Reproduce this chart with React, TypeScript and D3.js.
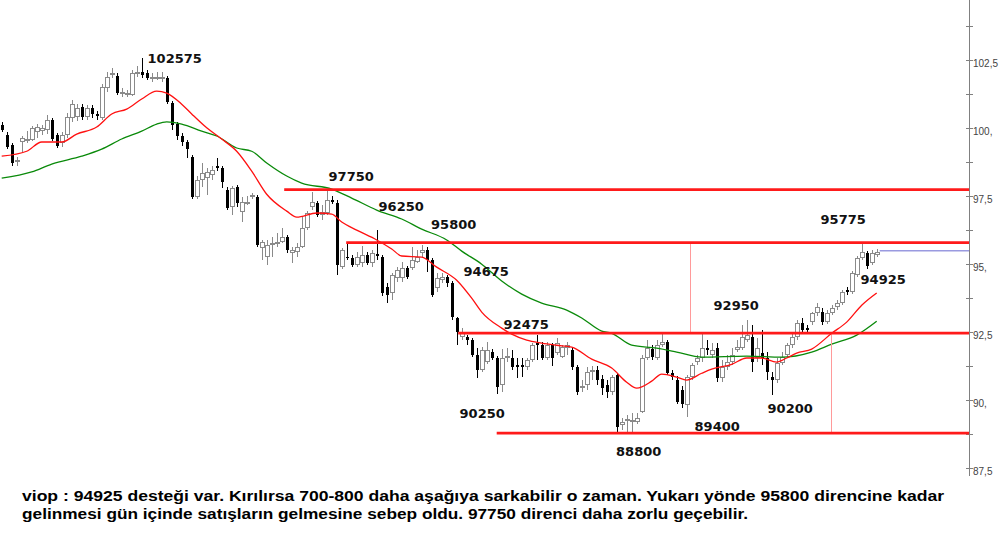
import React, { useEffect, useRef } from 'react';
import * as d3 from 'd3';

// open, high, low, close
type Candle = [number, number, number, number];

const candles: Candle[] = [
  [100130, 100240, 99870, 99940], [99760, 99870, 99240, 99310], [99390, 99460, 98620, 98730], [98770, 98940, 98620, 98840],
  [99500, 99720, 99130, 99650], [99530, 99900, 99460, 99610], [99570, 100090, 99530, 100020], [99870, 100160, 99650, 100050],
  [99900, 100130, 99760, 100020], [99940, 100500, 99790, 100310], [100310, 100380, 99530, 99610], [99760, 99830, 99280, 99350],
  [99460, 99870, 99310, 99760], [99760, 100570, 99650, 100420], [100390, 101040, 100240, 100890], [100420, 100890, 100270, 100750],
  [100780, 100890, 100310, 100420], [100420, 100860, 100310, 100750], [100750, 100860, 100390, 100530], [100530, 100640, 100310, 100460],
  [100390, 101630, 100310, 101520], [101490, 102080, 101340, 101890], [101970, 102220, 101860, 102040], [101930, 102040, 101230, 101300],
  [101300, 101490, 101150, 101340], [101230, 101410, 101150, 101300], [101230, 102150, 101190, 102040], [102000, 102290, 101890, 102080],
  [102080, 102575, 101860, 101970], [102040, 102150, 101780, 101860], [101820, 102040, 101710, 101890], [101820, 102080, 101780, 101890],
  [101860, 102080, 101710, 101890], [101860, 101930, 100890, 100970], [100930, 101000, 99940, 100130], [100160, 100240, 99570, 99720],
  [99720, 99830, 99350, 99500], [99500, 99570, 98910, 99240], [98940, 99020, 97400, 97470], [97470, 98250, 97400, 98100],
  [98100, 98730, 97840, 98360], [98180, 98550, 97550, 98400], [98290, 98620, 98100, 98470], [98620, 98910, 98430, 98550],
  [98550, 98620, 97810, 98030], [97730, 97840, 97000, 97070], [97110, 97880, 96820, 97810], [97840, 97920, 97110, 97260],
  [96930, 97470, 96560, 97300], [97260, 97510, 97190, 97300], [97470, 97620, 97400, 97550], [97470, 97550, 95640, 95720],
  [95600, 95900, 95160, 95830], [95270, 95900, 94980, 95720], [95750, 96010, 95270, 95790], [95790, 96150, 95640, 95830],
  [95830, 96340, 95790, 96010], [96010, 96080, 95420, 95530], [95420, 95640, 95050, 95530], [95460, 95790, 95270, 95640],
  [95640, 96740, 95600, 96340], [96340, 96960, 96260, 96890], [97110, 97660, 97000, 97300], [97260, 97330, 96740, 96820],
  [96820, 97190, 96630, 96930], [96890, 97700, 96820, 97370], [97370, 97510, 97220, 97300], [97260, 97370, 94610, 94980],
  [94900, 95600, 94830, 95530], [95270, 95830, 95160, 95230], [95230, 95350, 94900, 94980], [94980, 95460, 94900, 95270],
  [95050, 95680, 94900, 95350], [95350, 95460, 94980, 95050], [95050, 95530, 94900, 95420], [95380, 96260, 95160, 95310],
  [95270, 95350, 93840, 93950], [94170, 94310, 93580, 93880], [93950, 94680, 93690, 94610], [94500, 94900, 94350, 94790],
  [94500, 95090, 94350, 94860], [94860, 94940, 94460, 94530], [94860, 95640, 94790, 95160], [95090, 95530, 95050, 95270],
  [95420, 95720, 95270, 95530], [95530, 95640, 94720, 95160], [95160, 95230, 93800, 93880], [94130, 94680, 93990, 94500],
  [94420, 94680, 94310, 94530], [94530, 94610, 94170, 94310], [94310, 94390, 92950, 93060], [93030, 93060, 92030, 92510],
  [92320, 92660, 92220, 92470], [92320, 92400, 92030, 92220], [92220, 92290, 91590, 91670], [91670, 91920, 90820, 91110],
  [91110, 91960, 91040, 91850], [91410, 92140, 91330, 91850], [91780, 91890, 91480, 91560], [91560, 91630, 90250, 90490],
  [90560, 91890, 90300, 91560], [91560, 91920, 91410, 91630], [91560, 91850, 91110, 91220], [91300, 91560, 90820, 91220],
  [91300, 91560, 90860, 91220], [91220, 91560, 91110, 91480], [91480, 92110, 91410, 92030], [92110, 92400, 91480, 92030],
  [92030, 92140, 91480, 91560], [91560, 92140, 91480, 92030], [92030, 92110, 91260, 91560], [91740, 92290, 91670, 92110],
  [91590, 92030, 91560, 91960], [91920, 92140, 91670, 92030], [91850, 91920, 91110, 91220], [91220, 91300, 90200, 90310],
  [90450, 90750, 90310, 90530], [90560, 91220, 90380, 91040], [91040, 91260, 90750, 91110], [91110, 91260, 90560, 90750],
  [90780, 90930, 90200, 90450], [90560, 90750, 90090, 90310], [90310, 90930, 90200, 90860], [90930, 91000, 88800, 89010],
  [89090, 89350, 88910, 89200], [89270, 89460, 88830, 89310], [89240, 89530, 88830, 89270], [89200, 89530, 89130, 89350],
  [89570, 91670, 89530, 91560], [91560, 92220, 91480, 91920], [91890, 92030, 91480, 91590], [91560, 92220, 91480, 92030],
  [92030, 92470, 91960, 92140], [92140, 92220, 90930, 91000], [91000, 91110, 90750, 90860], [90750, 90890, 89860, 89940],
  [90380, 90530, 89710, 89860], [89830, 90930, 89400, 90860], [90860, 91370, 90750, 91300], [91410, 91670, 91300, 91560],
  [91560, 92510, 91410, 91920], [91920, 92220, 91670, 91850], [91670, 92110, 91560, 91850], [91920, 92110, 90670, 90820],
  [90820, 91480, 90670, 91220], [91220, 91670, 91110, 91410], [91410, 91920, 91300, 91670], [91850, 92220, 91780, 91960],
  [91920, 92770, 91850, 92320], [92220, 92950, 92140, 92400], [92320, 92770, 91040, 91410], [91560, 92290, 91410, 91920],
  [91740, 92580, 91300, 91560], [91560, 91780, 90750, 91040], [90860, 91040, 90200, 90750], [90750, 91560, 90640, 91370],
  [91370, 91780, 91300, 91590], [91670, 92110, 91590, 92030], [92030, 92470, 91920, 92320], [92320, 92950, 92220, 92840],
  [92840, 93030, 92470, 92580], [92660, 92770, 92510, 92580], [92880, 93250, 92770, 93210], [93210, 93580, 93100, 93430],
  [93250, 93400, 92770, 92880], [92880, 93320, 92800, 93210], [93210, 93510, 93140, 93400], [93430, 93690, 93320, 93580],
  [93580, 94060, 93510, 93990], [94060, 94170, 93880, 93990], [93990, 94760, 93910, 94680], [94610, 95310, 94530, 95230],
  [95230, 95775, 95160, 95460], [95420, 95490, 94830, 94925], [95050, 95530, 94980, 95420], [95350, 95570, 95270, 95460],
];

// [candle index, value]
const fastMa: [number, number][] = [
  [0, 98980], [5, 99160], [8, 99500], [12, 99500], [15, 99790], [19, 100050], [22, 100530], [25, 100710],
  [28, 101080], [31, 101370], [33, 101300], [36, 100890], [38, 100530], [41, 100020], [44, 99610], [47, 99160],
  [50, 98430], [53, 97580], [57, 96960], [59, 96740], [63, 96890], [66, 96850], [68, 96560], [71, 96260],
  [75, 95900], [78, 95570], [80, 95310], [84, 95270], [87, 94900], [91, 94420], [94, 93760], [96, 93250],
  [100, 92660], [102, 92440], [105, 92220], [108, 92110], [111, 92030], [114, 91960], [118, 91520], [122, 91190],
  [125, 90670], [127, 90450], [130, 90710], [132, 90970], [135, 90860], [137, 90750], [140, 91000], [142, 91150],
  [146, 91330], [149, 91560], [152, 91560], [155, 91410], [157, 91560], [159, 91740], [162, 91890], [166, 92470],
  [169, 92880], [172, 93500], [175, 93950],
];

const slowMa: [number, number][] = [
  [0, 98170], [6, 98400], [10, 98690], [16, 98980], [20, 99240], [24, 99610], [28, 99900], [31, 100160],
  [33, 100240], [36, 100160], [40, 99900], [43, 99720], [47, 99280], [50, 99160], [53, 98730], [57, 98250],
  [60, 97990], [66, 97770], [70, 97440], [75, 97000], [80, 96670], [84, 96300], [89, 95900], [92, 95490],
  [96, 95010], [100, 94390], [104, 93910], [108, 93580], [113, 93320], [116, 93030], [120, 92550], [122, 92470],
  [126, 92030], [131, 91920], [135, 91780], [140, 91590], [149, 91630], [156, 91590], [162, 91780], [166, 92070],
  [171, 92400], [175, 92910],
];

// horizontal support / resistance levels, starting at a candle index
const levels = [
  { value: 97750, from: 56.5 },
  { value: 95800, from: 68.9 },
  { value: 92475, from: 91.3 },
  { value: 88800, from: 99 },
];
const lastLevel = { value: 95500, from: 175.6 };
const guides = [
  { at: 137.7, top: 95800, bottom: 92475 },
  { at: 165.8, top: 92475, bottom: 88800 },
];

const labels = [
  { text: '102575', at: 34.6, value: 102580 },
  { text: '97750', at: 69.9, value: 98250 },
  { text: '96250', at: 79.9, value: 97150 },
  { text: '95800', at: 90.4, value: 96480 },
  { text: '94675', at: 96.9, value: 94760 },
  { text: '92475', at: 104.9, value: 92800 },
  { text: '90250', at: 96.1, value: 89530 },
  { text: '88800', at: 127.4, value: 88130 },
  { text: '89400', at: 143.1, value: 89050 },
  { text: '92950', at: 146.9, value: 93510 },
  { text: '90200', at: 157.7, value: 89720 },
  { text: '95775', at: 168.3, value: 96670 },
  { text: '94925', at: 176.3, value: 94460 },
];

const majorTicks = [87500, 90000, 92500, 95000, 97500, 100000, 102500];
const minorTicks = [88750, 91250, 93750, 96250, 98750, 101250, 103750];

const noteLines = [
  'viop : 94925 desteği var. Kırılırsa 700-800 daha aşağıya sarkabilir o zaman. Yukarı yönde 95800 direncine kadar',
  'gelinmesi gün içinde satışların gelmesine sebep oldu. 97750 direnci daha zorlu geçebilir.',
];

const fmtTick = (v: number) => {
  const t = v / 1000;
  return Number.isInteger(t) ? `${t},` : String(t).replace('.', ',');
};

const App: React.FC = () => {
  const ref = useRef<SVGSVGElement>(null);

  useEffect(() => {
    const svg = d3.select(ref.current);
    svg.selectAll('*').remove();

    const axisX = 969;
    const x = d3.scaleLinear().domain([0, 175]).range([1.7, 876.7]);
    const y = d3.scaleLinear().domain([87150, 104720]).range([478, 0]);

    // price axis
    const ax = svg.append('g').attr('transform', `translate(${axisX},0)`);
    ax.append('line').attr('x1', 0.5).attr('x2', 0.5).attr('y1', 0).attr('y2', 476).attr('stroke', '#808080');
    ax.selectAll('line.maj')
      .data([...majorTicks, ...minorTicks])
      .enter()
      .append('line')
      .attr('x1', -3)
      .attr('x2', 4)
      .attr('y1', (d) => Math.round(y(d)) + 0.5)
      .attr('y2', (d) => Math.round(y(d)) + 0.5)
      .attr('stroke', '#808080');
    ax.selectAll('text')
      .data(majorTicks)
      .enter()
      .append('text')
      .attr('x', 4)
      .attr('y', (d) => y(d) + 7)
      .attr('font-family', 'Liberation Sans, Arial, sans-serif')
      .attr('font-size', 10)
      .attr('fill', '#444')
      .text(fmtTick);

    // candles
    const g = svg.append('g').attr('shape-rendering', 'crispEdges');
    candles.forEach((c, i) => {
      const [o, h, l, cl] = c;
      const up = cl >= o;
      const cx = Math.round(x(i));
      const col = up ? '#8a8a8a' : '#000';
      g.append('line')
        .attr('x1', cx + 0.5)
        .attr('x2', cx + 0.5)
        .attr('y1', y(h))
        .attr('y2', y(l))
        .attr('stroke', col);
      const top = y(Math.max(o, cl));
      const bh = Math.max(1, y(Math.min(o, cl)) - top);
      g.append('rect')
        .attr('x', up ? cx - 1.5 : cx - 1)
        .attr('y', up ? top + 0.5 : top)
        .attr('width', up ? 4 : 3)
        .attr('height', up ? Math.max(1, bh - 1) : bh)
        .attr('fill', up ? '#fff' : '#000')
        .attr('stroke', up ? '#8a8a8a' : 'none');
    });

    // moving averages
    const line = d3
      .line<[number, number]>()
      .x((d) => x(d[0]))
      .y((d) => y(d[1]))
      .curve(d3.curveMonotoneX);
    svg.append('path').datum(slowMa).attr('fill', 'none').attr('stroke', '#0a8a0a').attr('stroke-width', 1.3).attr('d', line);
    svg.append('path').datum(fastMa).attr('fill', 'none').attr('stroke', '#ff1010').attr('stroke-width', 1.3).attr('d', line);

    // guides and levels
    guides.forEach((gd) => {
      svg.append('line')
        .attr('x1', Math.round(x(gd.at)) + 0.5)
        .attr('x2', Math.round(x(gd.at)) + 0.5)
        .attr('y1', y(gd.top))
        .attr('y2', y(gd.bottom))
        .attr('stroke', '#ff9a9a')
        .attr('stroke-width', 1);
    });
    levels.forEach((lv) => {
      svg.append('line')
        .attr('x1', x(lv.from))
        .attr('x2', axisX)
        .attr('y1', y(lv.value))
        .attr('y2', y(lv.value))
        .attr('stroke', '#ff1a1a')
        .attr('stroke-width', 2.6);
    });
    svg.append('line')
      .attr('x1', x(lastLevel.from))
      .attr('x2', axisX)
      .attr('y1', y(lastLevel.value))
      .attr('y2', y(lastLevel.value))
      .attr('stroke', '#9a9ae0')
      .attr('stroke-width', 1.5);

    // value labels
    svg.append('g')
      .selectAll('text')
      .data(labels)
      .enter()
      .append('text')
      .attr('x', (d) => x(d.at))
      .attr('y', (d) => y(d.value))
      .attr('dy', '0.37em')
      .attr('text-anchor', 'middle')
      .attr('font-family', 'DejaVu Sans, sans-serif')
      .attr('font-weight', 'bold')
      .attr('font-size', 13)
      .attr('fill', '#111')
      .text((d) => d.text);

    // comment text
    const widths = [922, 726];
    svg.append('g')
      .selectAll('text')
      .data(noteLines)
      .enter()
      .append('text')
      .attr('x', 22)
      .attr('y', (_, i) => 501 + i * 18)
      .attr('font-family', 'Liberation Sans, Arial, sans-serif')
      .attr('font-weight', 'bold')
      .attr('font-size', 14.5)
      .attr('fill', '#000')
      .attr('textLength', (_, i) => widths[i])
      .attr('lengthAdjust', 'spacingAndGlyphs')
      .text((d) => d);
  }, []);

  return (
    <svg
      ref={ref}
      width={1000}
      height={541}
      style={{ position: 'absolute', left: 0, top: 0, background: '#fff', display: 'block' }}
    />
  );
};

export default App;
